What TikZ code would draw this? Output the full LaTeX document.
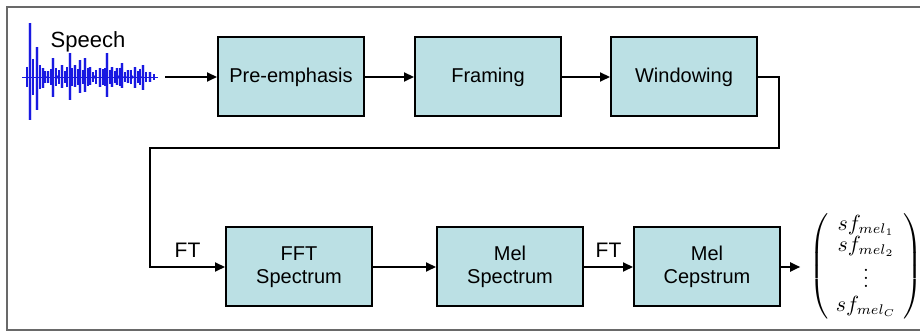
\documentclass[tikz,border=0pt]{standalone}
\usepackage{amsmath}
\usepackage{fontspec}
\newfontfamily\arial{Liberation Sans}
\usepackage{tikz}
\usetikzlibrary{arrows.meta}
\usetikzlibrary{calc}

\definecolor{boxfill}{RGB}{187,224,228}
\definecolor{wave}{RGB}{25,25,225}
\definecolor{framegray}{RGB}{105,105,105}

\tikzset{
  block/.style = {draw, line width=1pt, fill=boxfill, align=center,
    minimum width=7.3em, minimum height=3.95em, inner sep=0pt,
    font=\arial\fontsize{10}{11.5}\selectfont},
  flow/.style = {line width=1pt, -{Triangle[length=5pt,width=4.5pt]}},
  lbl/.style = {font=\arial\fontsize{10.5}{12}\selectfont}
}

\begin{document}
\begin{tikzpicture}
  \useasboundingbox (0,0) rectangle (46em,16.55em);
  %%% outer frame
  \draw[framegray,line width=1pt] (46em,16.22em) -- (0.35em,16.22em)
    -- (0.35em,0.06em) -- (46em,0.06em);
  %%% speech signal
  \begin{scope}[x=0.05em,y=-0.05em,yshift=16.55em]
    \draw[wave,line width=.4pt] (22,77) -- (158,77);
    \foreach \xx/\aa/\bb in {30/23/120,37/47/110,43/68/88,48/71/83,53/58/97,
      62/65/88,70/53/100,75/65/87,80/60/93,85/58/92,90/67/85,100/68/87,
      107/53/97,112/67/87,117/68/85,122/63/88,128/70/83,135/67/88,
      143/65/90,150/72/82} {
      \draw[wave,line width=2.4pt,opacity=.2] (\xx,\aa) -- (\xx,\bb);
      \draw[wave,line width=1pt] (\xx,\aa) -- (\xx,\bb);
    }
    \foreach \xx/\hh in {27/10,33/18,40/12,45/6,51/8,56/9,59/7,65/6,67/10,
      72/9,78/8,83/7,88/9,93/5,96/7,103/8,105/9,110/7,115/6,120/9,125/5,
      131/7,138/6,140/8,146/5,154/3} {
      \draw[wave,line width=.6pt] (\xx,77-\hh) -- (\xx,77+\hh);
    }
    \foreach \xx in {45,58,66,95,104,119,125,132,140} {
      \fill[wave] (\xx,77) circle (1.8);
    }
  \end{scope}
  \node[lbl,font=\arial\fontsize{11}{13}\selectfont] (speech) at (4.4em,14.45em) {Speech};
  %%% top row
  \node[block] (pre) at (14.55em,12.7em) {Pre-emphasis};
  \node[block] (frm) at (24.4em,12.7em) {Framing};
  \node[block] (win) at (34.2em,12.7em) {Windowing};
  %%% bottom row
  \node[block] (fft) at (14.95em,3.2em) {FFT\\Spectrum};
  \node[block] (mel) at (25.5em,3.2em) {Mel\\Spectrum};
  \node[block] (cep) at (35.35em,3.2em) {Mel\\Cepstrum};
  %%% feature vector
  \node[inner sep=0pt,font=\fontsize{10.5}{12}\selectfont] (vec) at (43.3em,3.25em)
    {$\renewcommand{\arraystretch}{0.85}\setlength{\arraycolsep}{3.5pt}%
     \left(\begin{array}{c}
      sf_{mel_1}\\ sf_{mel_2}\\ \vdots\\[1pt] sf_{mel_C}
     \end{array}\right)$};
  %%% connectors
  \coordinate (in) at (8.25em,12.7em);
  \coordinate (turn) at (38.95em,9.15em);
  \coordinate (back) at (7.5em,9.15em);
  \draw[flow] (in) -- (pre);
  \draw[flow] (pre) -- (frm);
  \draw[flow] (frm) -- (win);
  \draw[flow] (win.east) -| (turn) -- (back)
    |- node[lbl,pos=.75,above,yshift=1pt] (ft1) {FT} (fft);
  \draw[flow] (fft) -- (mel);
  \draw[flow] (mel) -- node[lbl,above,yshift=1pt] (ft2) {FT} (cep);
  \draw[flow] (cep) -- ($(vec.west |- cep)+(-0.45em,0)$);
\end{tikzpicture}
\end{document}
